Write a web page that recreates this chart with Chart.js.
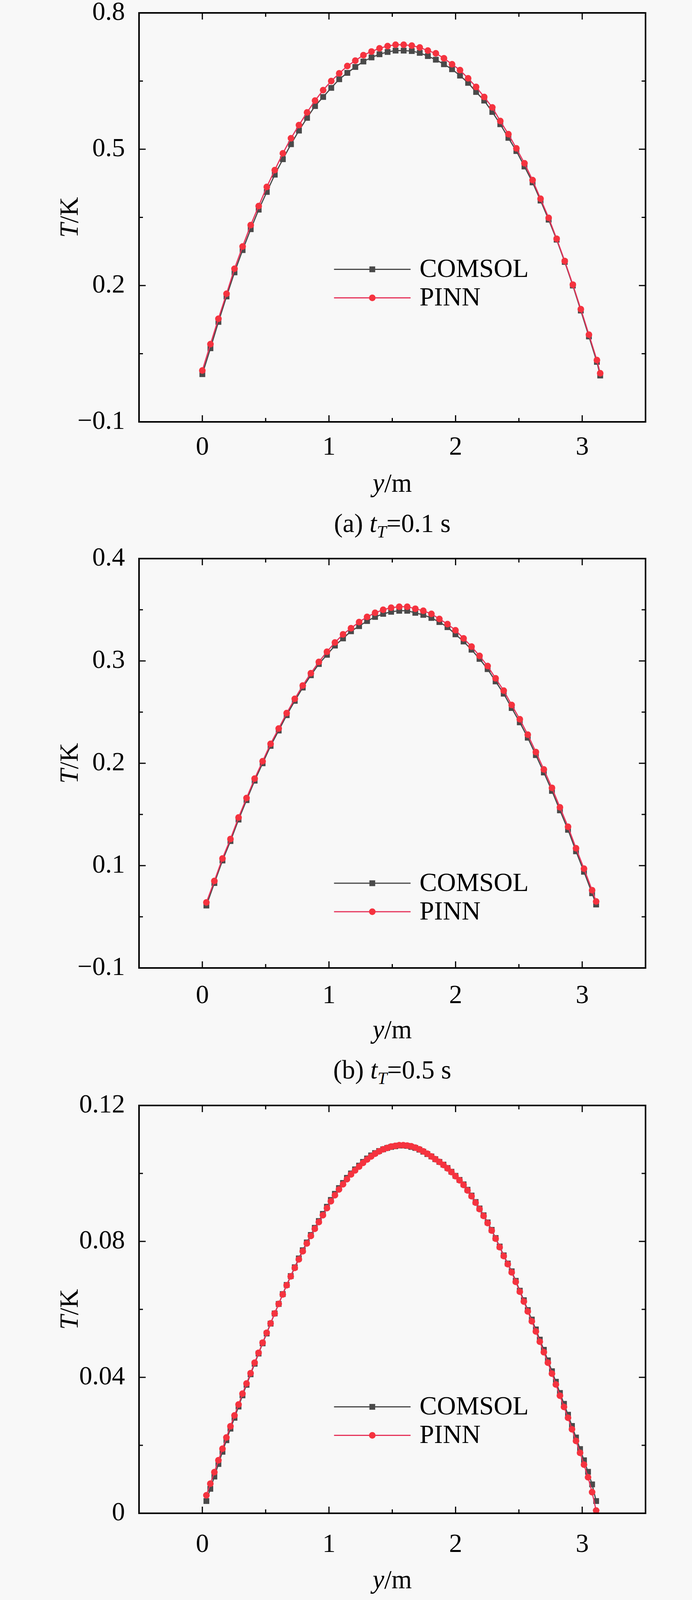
<!DOCTYPE html>
<html>
<head>
<meta charset="utf-8">
<title>COMSOL vs PINN temperature profiles</title>
<script src="https://cdn.jsdelivr.net/npm/chart.js@4.4.0/dist/chart.umd.min.js"></script>
<style>
  html, body { margin: 0; padding: 0; background: #f8f8f8; }
  body { width: 1772px; height: 4185px; overflow: hidden; font-family: "Liberation Serif", "Times New Roman", serif; }
  .panel { position: relative; width: 1772px; height: 1395px; }
  .panel canvas { position: absolute; left: 0; top: 0; display: block; }
  .caption { position: absolute; left: 356px; width: 1297px; text-align: center; font-size: 67px; line-height: 80px; color: #000; white-space: nowrap; }
  .caption sub { font-size: 44px; line-height: 0; vertical-align: -14px; }
</style>
</head>
<body>
<div class="panel"><canvas id="chartA" width="1772" height="1300"></canvas><div class="caption" style="top:1299px">(a) <i>t</i><sub><i>T</i></sub>=0.1 s</div></div>
<div class="panel"><canvas id="chartB" width="1772" height="1300"></canvas><div class="caption" style="top:1303px">(b) <i>t</i><sub><i>T</i></sub>=0.5 s</div></div>
<div class="panel"><canvas id="chartC" width="1772" height="1300"></canvas><div class="caption" style="top:1318px">(c) <i>t</i><sub><i>T</i></sub>=1.0 s</div></div>
<script>
// ---- data ----
const seriesNames = ['COMSOL', 'PINN'];

// (a) tT = 0.1 s
const posA = [0, 0.064, 0.127, 0.191, 0.254, 0.318, 0.382, 0.445, 0.509, 0.572, 0.636, 0.700, 0.763, 0.827, 0.890, 0.954, 1.018, 1.081, 1.145, 1.208, 1.272, 1.336, 1.399, 1.463, 1.526, 1.590, 1.654, 1.717, 1.781, 1.844, 1.908, 1.972, 2.035, 2.099, 2.162, 2.226, 2.290, 2.353, 2.417, 2.480, 2.544, 2.608, 2.671, 2.735, 2.798, 2.862, 2.926, 2.989, 3.053, 3.116, 3.142];
const comsolA = [0.005, 0.062, 0.120, 0.176, 0.229, 0.278, 0.324, 0.367, 0.406, 0.444, 0.478, 0.511, 0.541, 0.569, 0.595, 0.615, 0.635, 0.654, 0.668, 0.681, 0.693, 0.702, 0.709, 0.714, 0.717, 0.717, 0.716, 0.712, 0.705, 0.697, 0.687, 0.676, 0.662, 0.646, 0.626, 0.607, 0.582, 0.555, 0.525, 0.496, 0.462, 0.427, 0.387, 0.345, 0.301, 0.252, 0.200, 0.145, 0.088, 0.032, 0.002];
const pinnA = [0.013, 0.071, 0.127, 0.182, 0.237, 0.286, 0.333, 0.375, 0.417, 0.454, 0.491, 0.524, 0.553, 0.581, 0.607, 0.630, 0.650, 0.667, 0.683, 0.695, 0.707, 0.715, 0.722, 0.727, 0.730, 0.730, 0.728, 0.724, 0.717, 0.711, 0.700, 0.687, 0.674, 0.656, 0.637, 0.615, 0.592, 0.562, 0.533, 0.502, 0.469, 0.432, 0.391, 0.349, 0.303, 0.254, 0.202, 0.148, 0.092, 0.036, 0.007];

// (b) tT = 0.5 s
const posB = [0.032, 0.095, 0.159, 0.222, 0.286, 0.349, 0.413, 0.476, 0.539, 0.603, 0.666, 0.730, 0.793, 0.857, 0.920, 0.984, 1.047, 1.111, 1.174, 1.238, 1.301, 1.364, 1.428, 1.491, 1.555, 1.618, 1.682, 1.745, 1.809, 1.872, 1.936, 1.999, 2.063, 2.126, 2.189, 2.253, 2.316, 2.380, 2.443, 2.507, 2.570, 2.634, 2.697, 2.761, 2.824, 2.888, 2.951, 3.014, 3.078, 3.110];
const comsolB = [0.061, 0.083, 0.105, 0.124, 0.145, 0.164, 0.183, 0.200, 0.217, 0.232, 0.247, 0.261, 0.274, 0.286, 0.297, 0.306, 0.315, 0.322, 0.329, 0.334, 0.339, 0.343, 0.346, 0.348, 0.349, 0.349, 0.347, 0.345, 0.342, 0.338, 0.333, 0.326, 0.319, 0.311, 0.302, 0.292, 0.280, 0.268, 0.254, 0.240, 0.225, 0.208, 0.191, 0.173, 0.154, 0.135, 0.114, 0.094, 0.073, 0.062];
const pinnB = [0.064, 0.085, 0.107, 0.126, 0.147, 0.166, 0.185, 0.202, 0.219, 0.234, 0.249, 0.263, 0.276, 0.288, 0.299, 0.309, 0.318, 0.326, 0.332, 0.338, 0.343, 0.347, 0.350, 0.352, 0.353, 0.353, 0.351, 0.349, 0.346, 0.341, 0.336, 0.330, 0.322, 0.314, 0.305, 0.295, 0.283, 0.271, 0.257, 0.243, 0.228, 0.211, 0.194, 0.176, 0.157, 0.138, 0.117, 0.097, 0.076, 0.065];

// (c) tT = 1.0 s
const posC = [0.032, 0.063, 0.095, 0.127, 0.159, 0.190, 0.222, 0.254, 0.286, 0.317, 0.349, 0.381, 0.413, 0.444, 0.476, 0.508, 0.539, 0.571, 0.603, 0.635, 0.666, 0.698, 0.730, 0.762, 0.793, 0.825, 0.857, 0.888, 0.920, 0.952, 0.984, 1.015, 1.047, 1.079, 1.111, 1.142, 1.174, 1.206, 1.238, 1.269, 1.301, 1.333, 1.364, 1.396, 1.428, 1.460, 1.491, 1.523, 1.555, 1.587, 1.618, 1.650, 1.682, 1.714, 1.745, 1.777, 1.809, 1.840, 1.872, 1.904, 1.936, 1.967, 1.999, 2.031, 2.063, 2.094, 2.126, 2.158, 2.189, 2.221, 2.253, 2.285, 2.316, 2.348, 2.380, 2.412, 2.443, 2.475, 2.507, 2.539, 2.570, 2.602, 2.634, 2.665, 2.697, 2.729, 2.761, 2.792, 2.824, 2.856, 2.888, 2.919, 2.951, 2.983, 3.014, 3.046, 3.078, 3.110];
const comsolC = [0.0036, 0.0072, 0.0108, 0.0145, 0.0181, 0.0215, 0.0249, 0.0281, 0.0314, 0.0347, 0.0378, 0.0409, 0.0440, 0.0470, 0.0500, 0.0529, 0.0558, 0.0588, 0.0616, 0.0645, 0.0672, 0.0698, 0.0724, 0.0750, 0.0774, 0.0797, 0.0819, 0.0840, 0.0860, 0.0881, 0.0902, 0.0922, 0.0940, 0.0957, 0.0972, 0.0987, 0.1000, 0.1012, 0.1023, 0.1034, 0.1044, 0.1053, 0.1060, 0.1066, 0.1071, 0.1075, 0.1078, 0.1080, 0.1082, 0.1082, 0.1081, 0.1078, 0.1075, 0.1070, 0.1064, 0.1057, 0.1050, 0.1042, 0.1034, 0.1026, 0.1016, 0.1005, 0.0993, 0.0981, 0.0968, 0.0952, 0.0935, 0.0916, 0.0897, 0.0877, 0.0856, 0.0834, 0.0810, 0.0785, 0.0759, 0.0735, 0.0712, 0.0684, 0.0655, 0.0627, 0.0598, 0.0570, 0.0541, 0.0511, 0.0481, 0.0450, 0.0418, 0.0387, 0.0354, 0.0322, 0.0290, 0.0257, 0.0223, 0.0189, 0.0156, 0.0122, 0.0085, 0.0036];
const pinnC = [0.0053, 0.0087, 0.0121, 0.0156, 0.0190, 0.0223, 0.0256, 0.0288, 0.0320, 0.0352, 0.0382, 0.0412, 0.0443, 0.0472, 0.0502, 0.0531, 0.0559, 0.0588, 0.0616, 0.0644, 0.0671, 0.0697, 0.0722, 0.0747, 0.0771, 0.0794, 0.0816, 0.0837, 0.0857, 0.0877, 0.0898, 0.0918, 0.0936, 0.0953, 0.0968, 0.0983, 0.0997, 0.1009, 0.1020, 0.1031, 0.1041, 0.1050, 0.1058, 0.1065, 0.1071, 0.1075, 0.1079, 0.1081, 0.1083, 0.1083, 0.1082, 0.1080, 0.1076, 0.1071, 0.1065, 0.1058, 0.1050, 0.1042, 0.1034, 0.1025, 0.1015, 0.1004, 0.0992, 0.0980, 0.0966, 0.0950, 0.0933, 0.0914, 0.0895, 0.0875, 0.0854, 0.0832, 0.0808, 0.0783, 0.0757, 0.0733, 0.0709, 0.0681, 0.0652, 0.0623, 0.0594, 0.0565, 0.0535, 0.0505, 0.0474, 0.0443, 0.0411, 0.0379, 0.0346, 0.0313, 0.0281, 0.0247, 0.0213, 0.0178, 0.0143, 0.0106, 0.0062, 0.0008];

// axis ticks and their labels ('' = minor tick)
const xTicks = [-0.5, 0, 0.5, 1, 1.5, 2, 2.5, 3, 3.5];
const xTickLabels = ['', '0', '', '1', '', '2', '', '3', ''];
const yTicksA = [-0.1, 0.05, 0.2, 0.35, 0.5, 0.65, 0.8];
const yTickLabelsA = ['\u22120.1', '', '0.2', '', '0.5', '', '0.8'];
const yTicksB = [0, 0.05, 0.1, 0.15, 0.2, 0.25, 0.3, 0.35, 0.4];
const yTickLabelsB = ['\u22120.1', '', '0.1', '', '0.2', '', '0.3', '', '0.4'];
const yTicksC = [0, 0.02, 0.04, 0.06, 0.08, 0.1, 0.12];
const yTickLabelsC = ['0', '', '0.04', '', '0.08', '', '0.12'];

// ---- drawing ----
const FONT = '"Liberation Serif", "Times New Roman", serif';
const FSIZE = 67;

// box frame with inward ticks on all four sides
function frameTicks(xLabels, yLabels) {
  return {
    id: 'frameTicks',
    afterDatasetsDraw(chart) {
      const { ctx, chartArea: a } = chart;
      const sx = chart.scales.x, sy = chart.scales.y;
      ctx.save();
      ctx.strokeStyle = '#000';
      ctx.lineWidth = 3;
      sx.ticks.forEach((t, i) => {
        const p = sx.getPixelForValue(t.value);
        const len = xLabels[i] ? 17 : 10;
        ctx.beginPath();
        ctx.moveTo(p, a.bottom); ctx.lineTo(p, a.bottom - len);
        ctx.moveTo(p, a.top); ctx.lineTo(p, a.top + len);
        ctx.stroke();
      });
      sy.ticks.forEach((t, i) => {
        const p = sy.getPixelForValue(t.value);
        const len = yLabels[i] ? 17 : 10;
        ctx.beginPath();
        ctx.moveTo(a.left, p); ctx.lineTo(a.left + len, p);
        ctx.moveTo(a.right, p); ctx.lineTo(a.right - len, p);
        ctx.stroke();
      });
      ctx.lineWidth = 4;
      ctx.strokeRect(a.left, a.top, a.right - a.left, a.bottom - a.top);
      ctx.restore();
    }
  };
}

// legend drawn inside the plot
function insetLegend(fx, fy) {
  return {
    id: 'insetLegend',
    afterDraw(chart) {
      const { ctx, chartArea: a } = chart;
      const x0 = a.left + fx * (a.right - a.left);
      let yy = a.top + fy * (a.bottom - a.top);
      chart.data.datasets.forEach(ds => {
        ctx.save();
        ctx.strokeStyle = ds.borderColor;
        ctx.lineWidth = ds.borderWidth;
        ctx.beginPath();
        ctx.moveTo(x0, yy);
        ctx.lineTo(x0 + 196, yy);
        ctx.stroke();
        ctx.fillStyle = ds.pointBackgroundColor;
        ctx.strokeStyle = ds.pointBackgroundColor;
        Chart.helpers.drawPoint(ctx, { pointStyle: ds.pointStyle, radius: ds.pointRadius, rotation: 0, borderWidth: 0 }, x0 + 98, yy);
        ctx.fillStyle = '#000';
        ctx.font = FSIZE + 'px ' + FONT;
        ctx.textAlign = 'left';
        ctx.textBaseline = 'middle';
        ctx.fillText(ds.label, x0 + 219, yy + 2);
        ctx.restore();
        yy += 73;
      });
    }
  };
}

// italic symbol + upright unit
function drawMixed(ctx, parts, cx, cy) {
  let w = 0;
  parts.forEach(p => { ctx.font = (p.it ? 'italic ' : '') + FSIZE + 'px ' + FONT; w += ctx.measureText(p.t).width; });
  let x = cx - w / 2;
  parts.forEach(p => {
    ctx.font = (p.it ? 'italic ' : '') + FSIZE + 'px ' + FONT;
    ctx.fillText(p.t, x, cy);
    x += ctx.measureText(p.t).width;
  });
}

function axisTitles(xGap) {
  return {
    id: 'axisTitles',
    afterDraw(chart) {
      const { ctx, chartArea: a } = chart;
      ctx.save();
      ctx.fillStyle = '#000';
      ctx.textAlign = 'left';
      ctx.textBaseline = 'middle';
      drawMixed(ctx, [{ t: 'y', it: true }, { t: '/m', it: false }], (a.left + a.right) / 2, a.bottom + xGap);
      ctx.translate(181, (a.top + a.bottom) / 2);
      ctx.rotate(-Math.PI / 2);
      drawMixed(ctx, [{ t: 'T', it: true }, { t: '/K', it: false }], 0, 0);
      ctx.restore();
    }
  };
}

function makeChart(id, pos, comsol, pinn, yMin, yMax, yTicks, yLabels, top, bottom, legendY, labelPad, titleGap) {
  const H = 1300;
  const tickFont = { family: FONT, size: FSIZE };
  return new Chart(document.getElementById(id), {
    type: 'scatter',
    data: {
      datasets: [
        {
          label: seriesNames[0],
          data: pos.map((v, i) => ({ x: v, y: comsol[i] })),
          showLine: true,
          borderColor: '#474747',
          borderWidth: 3,
          pointStyle: 'rect',
          pointRadius: 10.5,
          pointBorderWidth: 0,
          pointBackgroundColor: '#4a4a4a',
          pointBorderColor: '#4a4a4a',
          order: 2
        },
        {
          label: seriesNames[1],
          data: pos.map((v, i) => ({ x: v, y: pinn[i] })),
          showLine: true,
          borderColor: '#e6335a',
          borderWidth: 3,
          pointStyle: 'circle',
          pointRadius: 8.5,
          pointBorderWidth: 0,
          pointBackgroundColor: '#f5333f',
          pointBorderColor: '#f5333f',
          order: 1
        }
      ]
    },
    options: {
      responsive: false,
      animation: false,
      devicePixelRatio: 1,
      events: [],
      layout: { padding: { top: top, right: 119, left: 0, bottom: 0 } },
      plugins: { legend: { display: false }, tooltip: { enabled: false } },
      scales: {
        x: {
          type: 'linear',
          min: -0.5,
          max: 3.5,
          afterBuildTicks: s => { s.ticks = xTicks.map(v => ({ value: v })); },
          afterFit: s => { s.height = H - bottom; s.paddingLeft = 0; s.paddingRight = 0; },
          grid: { display: false },
          border: { display: false },
          ticks: {
            callback: (v, i) => xTickLabels[i],
            autoSkip: false,
            maxRotation: 0,
            padding: labelPad,
            color: '#000',
            font: tickFont
          }
        },
        y: {
          type: 'linear',
          min: yMin,
          max: yMax,
          afterBuildTicks: s => { s.ticks = yTicks.map(v => ({ value: v })); },
          afterFit: s => { s.width = 356; s.paddingTop = 0; s.paddingBottom = 0; },
          grid: { display: false },
          border: { display: false },
          ticks: {
            callback: (v, i) => yLabels[i],
            autoSkip: false,
            padding: 28,
            color: '#000',
            font: tickFont
          }
        }
      }
    },
    plugins: [frameTicks(xTickLabels, yLabels), insetLegend(0.385, legendY), axisTitles(titleGap)]
  });
}

makeChart('chartA', posA, comsolA, pinnA, -0.1, 0.8, yTicksA, yTickLabelsA, 33, 1080, 0.627, 18, 161);
makeChart('chartB', posB, comsolB, pinnB, 0, 0.4, yTicksB, yTickLabelsB, 35, 1083, 0.793, 24, 162);
makeChart('chartC', posC, comsolC, pinnC, 0, 0.12, yTicksC, yTickLabelsC, 40, 1084, 0.739, 33, 174);
</script>
</body>
</html>
